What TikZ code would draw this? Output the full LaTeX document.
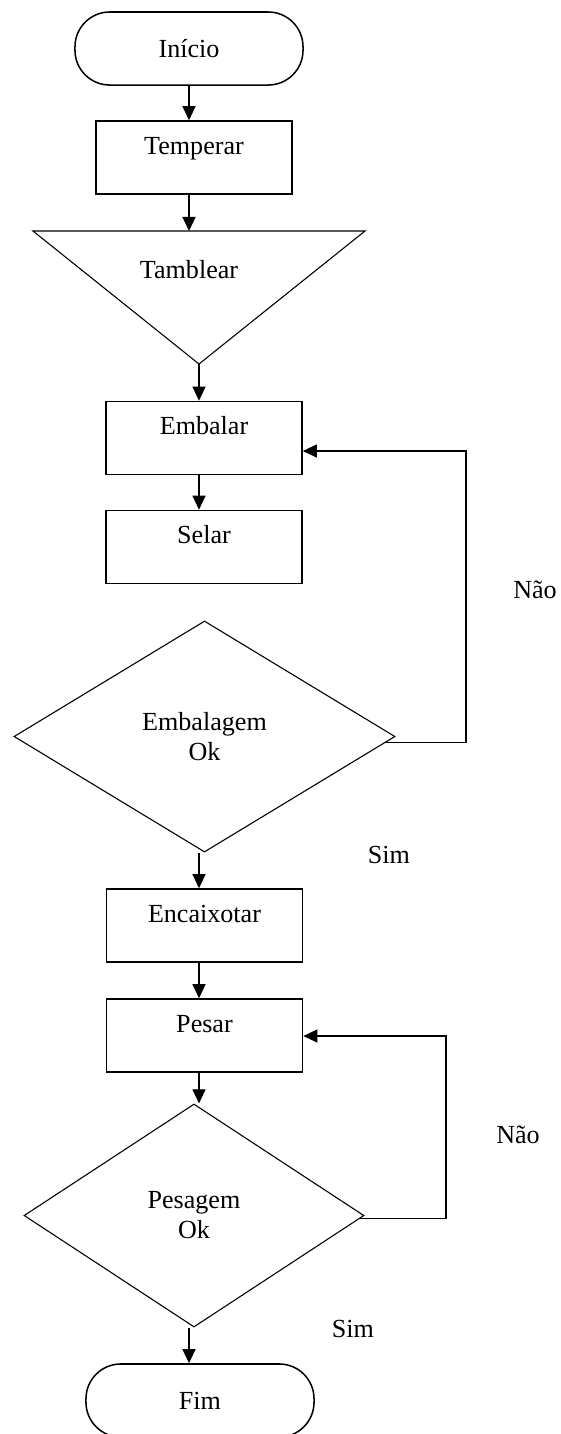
\documentclass[tikz,border=0pt]{standalone}
\usepackage{fontspec}
\setmainfont{Liberation Serif}
\usetikzlibrary{arrows.meta,shapes.geometric}

\begin{document}
\begin{tikzpicture}[
  x=0.46pt, y=-0.46pt,
  font=\fontsize{12}{13.8}\selectfont,
  etapa/.style={draw, line width=0.7pt, minimum width=90.2pt, minimum height=33.6pt,
    text height=8pt, text depth=10.8pt},
  term/.style={draw, line width=0.7pt, rounded corners=16pt, minimum width=104.9pt,
    minimum height=33.6pt},
  decisao/.style={draw, diamond, line width=0.5pt, align=center, inner sep=1pt},
  rot/.style={inner sep=0pt},
  arr/.style={-{Triangle[length=6.5pt, width=6pt]}, line width=0.6pt}
]
  \path[use as bounding box, fill=white] (0,0) rectangle (561,1434);

  \coordinate (colA) at (189,0);
  \coordinate (colB) at (199,0);

  \node[term] (inicio) at (189,48.5) {Início};
  \node[etapa] (temperar) at (194,157.5) {Temperar};

  \coordinate (tri-nw) at (33,231);
  \coordinate (tri-ne) at (365,231);
  \coordinate (tri-s) at (199,364);
  \draw[line width=0.5pt] (tri-nw) -- (tri-ne) -- (tri-s) -- cycle;
  \node (tamblear) at (189,270) {Tamblear};

  \node[etapa] (embalar) at (204,438) {Embalar};
  \node[etapa] (selar) at (204,547) {Selar};
  \node[decisao, minimum width=175.3pt, minimum height=106.3pt] (embok) at (204.5,736.5) {Embalagem\\Ok};
  \node[etapa] (encaixotar) at (204.5,925.5) {Encaixotar};
  \node[etapa] (pesar) at (204.5,1035.5) {Pesar};
  \node[decisao, minimum width=156.4pt, minimum height=102.6pt] (pesok) at (194,1215.5) {Pesagem\\Ok};
  \node[term] (fim) at (200,1400.5) {Fim};

  \node[rot] (nao1) at (535,590) {Não};
  \node[rot] (sim1) at (389,855) {Sim};
  \node[rot] (nao2) at (518,1135) {Não};
  \node[rot] (sim2) at (353,1329) {Sim};

  \coordinate (volta1) at (466,451);
  \coordinate (volta2) at (446,1036);

  \draw[arr] (inicio) -- (inicio |- temperar.north);
  \draw[arr] (temperar.south -| colA) -- (tri-nw -| colA);
  \draw[arr] (tri-s) -- (tri-s |- embalar.north);
  \draw[arr] (embalar.south -| colB) -- (selar.north -| colB);
  \draw[arr] (embok.south -| colB) -- (encaixotar.north -| colB);
  \draw[arr] (encaixotar.south -| colB) -- (pesar.north -| colB);
  \draw[arr] (pesar.south -| colB) -- (pesok.north -| colB);
  \draw[arr] (pesok.south -| colA) -- (fim.north -| colA);
  \draw[arr] (embok.-2) -| (volta1) -- (volta1 -| embalar.east);
  \draw[arr] (pesok.-1) -| (volta2) -- (volta2 -| pesar.east);
\end{tikzpicture}
\end{document}
